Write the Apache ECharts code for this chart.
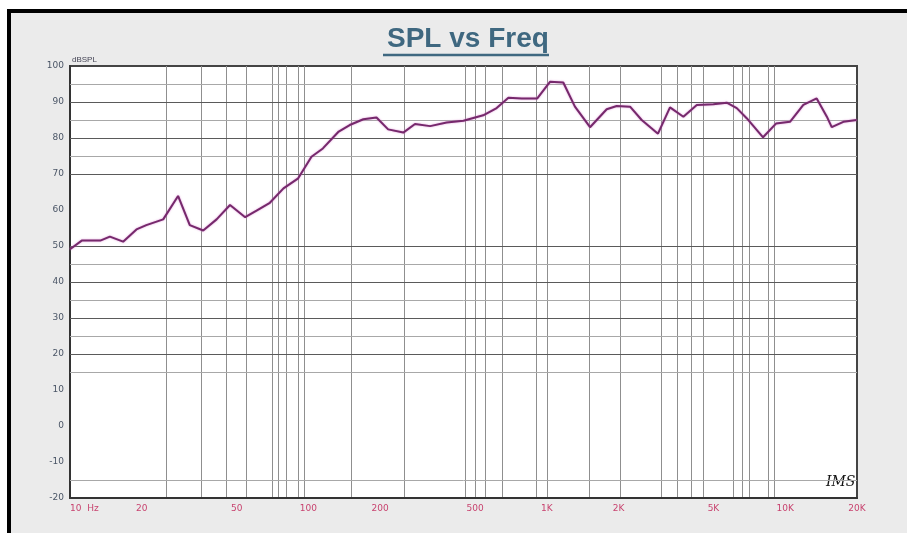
<!DOCTYPE html>
<html>
<head>
<meta charset="utf-8">
<script src="https://cdn.jsdelivr.net/npm/echarts@6/dist/echarts.min.js"></script>
<style>
	html, body { margin: 0; padding: 0; background: #fff; }
	#frame {
		position: absolute; left: 7px; top: 9px; width: 920px; height: 540px;
		border-left: 4px solid #000; border-top: 4px solid #000;
		background: #ebebeb;
	}
	#chart { position: absolute; left: 0; top: 0; width: 907px; height: 533px; }
</style>
</head>
<body>
<div id="frame"></div>
<div id="chart"></div>
<script>
var freqHz = [10, 11.2, 13.4, 14.7, 16.7, 19.0, 20.9, 24.6, 28.4, 31.8, 36.2, 41.2, 46.9, 54.3, 60.6, 68.9, 78.6, 90.6,
	103, 115, 134, 149, 170, 193, 216, 250, 280, 324, 380, 447, 541, 616, 690, 785, 912,
	1031, 1172, 1312, 1518, 1783, 1964, 2234, 2500, 2926, 3286, 3739, 4256, 4994, 5683, 6262, 6891, 8072, 9146,
	10470, 11910, 13550, 14930, 15670, 17530, 19950];
var splDb = [49.1, 51.5, 51.5, 52.6, 51.2, 54.6, 55.8, 57.4, 63.9, 55.8, 54.3, 57.4, 61.4, 58.0, 59.8, 62.0, 66.0, 68.8,
	74.8, 77.1, 81.8, 83.6, 85.2, 85.7, 82.4, 81.5, 83.9, 83.3, 84.3, 84.8, 86.3, 88.3, 91.2, 91.0, 91.0,
	95.6, 95.4, 88.7, 83.0, 88.0, 88.9, 88.7, 85.0, 81.2, 88.5, 85.9, 89.2, 89.4, 89.8, 88.3, 85.5, 80.2, 84.0,
	84.5, 89.2, 91.0, 86.0, 83.0, 84.5, 85.0];

// axis ticks / grid lines as they appear on the sheet
var xLabelVals = [10, 20, 50, 100, 200, 500, 1000, 2000, 5000, 10000, 20000];
var xGridVals = [25.3, 35.4, 45.1, 54.7, 70.4, 74.6, 80.5, 90.4, 95.8, 151, 252, 454, 503, 551, 653, 907, 1008,
	1504, 2029, 3013, 3541, 4054, 4533, 6054, 6604, 7069, 8489, 8996];
var yLabelVals = [-20, -10, 0, 10, 20, 30, 40, 50, 60, 70, 80, 90, 100];
var yMajorGrid = [20, 30, 40, 50, 70, 80, 90];
var yMinorGrid = [-15, 15, 25, 35, 45, 75, 85, 95];

function freqLabel(v) {
	if (v == 10) return '10  Hz';
	if (v >= 1000) return Math.round(v / 1000) + 'K';
	return '' + v;
}

function hLines(vals, color, width) {
	return {
		silent: true,
		symbol: 'none',
		label: { show: false },
		lineStyle: { color: color, width: width, type: 'solid' },
		emphasis: { disabled: true },
		data: vals.map(function (v) { return { yAxis: v }; })
	};
}

var chart = echarts.init(document.getElementById('chart'));
var option = {
	backgroundColor: 'transparent',
	animation: false,
	title: {
		text: 'SPL vs Freq',
		left: 382,
		top: 20,
		textStyle: {
			fontFamily: 'Liberation Sans, Arial',
			fontSize: 28,
			fontWeight: 'bold',
			color: '#3f6880'
		}
	},
	graphic: [
		{
			type: 'line',
			shape: { x1: 383, y1: 55, x2: 549, y2: 55 },
			style: { stroke: '#3f6880', lineWidth: 2.5 }
		},
		{
			type: 'text',
			left: 826,
			top: 475,
			style: {
				text: 'IMS',
				font: 'italic 14px "DejaVu Serif"',
				fill: '#111'
			}
		}
	],
	grid: {
		left: 70,
		right: 50,
		top: 66,
		bottom: 35,
		show: true,
		backgroundColor: '#fff',
		borderColor: '#444',
		borderWidth: 2
	},
	xAxis: {
		type: 'log',
		logBase: 10,
		min: 10,
		max: 20000,
		axisLine: { show: true, onZero: false, lineStyle: { color: '#333', width: 2 } },
		axisTick: { show: false, customValues: xGridVals },
		axisLabel: {
			customValues: xLabelVals,
			formatter: freqLabel,
			color: '#c8436f',
			fontSize: 9,
			fontFamily: 'DejaVu Sans',
			margin: 6,
			alignMinLabel: 'left'
		},
		splitLine: { show: true, lineStyle: { color: '#8f8f8f', width: 1 } }
	},
	yAxis: {
		type: 'value',
		min: -20,
		max: 100,
		interval: 10,
		name: 'dBSPL',
		nameLocation: 'end',
		nameGap: 2,
		nameTextStyle: { align: 'left', color: '#445', fontSize: 8, padding: [0, 0, 0, 2] },
		axisLine: { show: true, lineStyle: { color: '#333', width: 2 } },
		axisTick: { show: false },
		axisLabel: {
			customValues: yLabelVals,
			color: '#4a5566',
			fontSize: 9,
			fontFamily: 'DejaVu Sans',
			margin: 6
		},
		splitLine: { show: false }
	},
	series: [
		{
			name: 'SPL',
			type: 'line',
			data: freqHz.map(function (f, i) { return [f, splDb[i]]; }),
			showSymbol: false,
			z: 5,
			lineStyle: {
				color: '#76296c',
				width: 2,
				shadowColor: 'rgba(210, 110, 200, 0.7)',
				shadowBlur: 2
			},
			markLine: hLines(yMajorGrid, '#5a5a5a', 1.2)
		},
		{
			name: 'grid-minor',
			type: 'line',
			data: [],
			z: 1,
			markLine: hLines(yMinorGrid, '#a8a8a8', 1)
		}
	]
};
chart.setOption(option);
</script>
</body>
</html>
